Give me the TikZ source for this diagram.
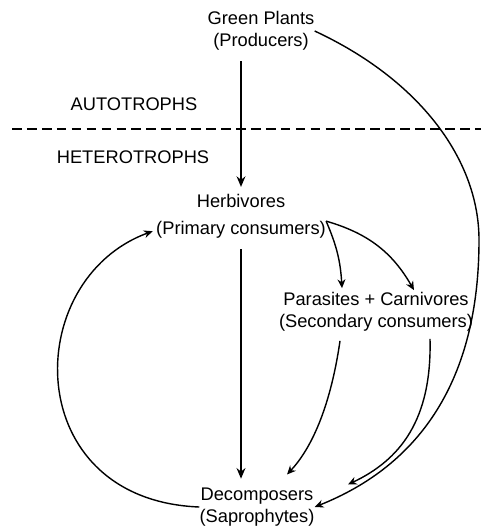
\documentclass[tikz,border=0pt]{standalone}
\usepackage{fontspec}
\setmainfont{Liberation Sans}
\usetikzlibrary{arrows.meta,calc}

\begin{document}
\begin{tikzpicture}[x=0.02cm, y=-0.02cm,
    lbl/.style={align=center, inner sep=0pt, font=\fontsize{10.4}{12.5}\selectfont},
    flow/.style={line width=0.8pt, -{Stealth[length=5pt,width=4.5pt]}},
    mainflow/.style={line width=1.4pt, -{Stealth[length=6pt,width=5pt]}}]
    % 画布范围（按像素坐标）
    \useasboundingbox (0,0) rectangle (481,527);

    % 各营养级
    \node[lbl] (green) at (261,31) {Green Plants\\(Producers)};
    \node[lbl] (auto) at (134,104) {AUTOTROPHS};
    \node[lbl] (hetero) at (133,157) {HETEROTROPHS};
    \node[lbl] (herb) at (241,201) {Herbivores};
    \node[lbl] (primary) at (241,230) {(Primary consumers)};
    \node[lbl] (para) at (376,312) {Parasites + Carnivores\\(Secondary consumers)};
    \node[lbl] (decomp) at (257,507) {Decomposers\\(Saprophytes)};

    % 自养/异养分界线
    \coordinate (divL) at (12,129);
    \coordinate (divR) at (481,129);
    \draw[line width=1.1pt, dash pattern=on 5.5pt off 3pt] (divL) -- (divR);

    % 主干箭头
    \draw[mainflow, shorten <=6pt, shorten >=4pt]
        (green.south -| herb.north) -- (herb.north);
    \draw[mainflow, shorten <=6pt, shorten >=5pt]
        (primary.south) -- (primary.south |- decomp.north);

    % 植食者到次级消费者
    \draw[flow] (primary.north east) to[bend left=10] ($(para.north)+(-34,-4)$);
    \draw[flow] (primary.north east) to[bend left=22] ($(para.north)+(38,-2)$);

    % 次级消费者到分解者
    \draw[flow] ($(para.south)+(-36,9)$)
        .. controls (330,410) and (310,450) .. ($(decomp.north)+(30,-13)$);
    \draw[flow] ($(para.south)+(54,7)$)
        .. controls (432,420) and (400,460) .. ($(decomp.north)+(91,-3)$);

    % 分解者回到植食者
    \draw[flow, shorten >=2pt] (decomp.west)
        .. controls (20,500) and (20,280) .. (primary.west);

    % 绿色植物直接到分解者
    \draw[flow] (green.east)
        .. controls (420,80) and (479,160) .. (479,240)
        .. controls (479,380) and (420,465) .. (decomp.east);
\end{tikzpicture}
\end{document}
